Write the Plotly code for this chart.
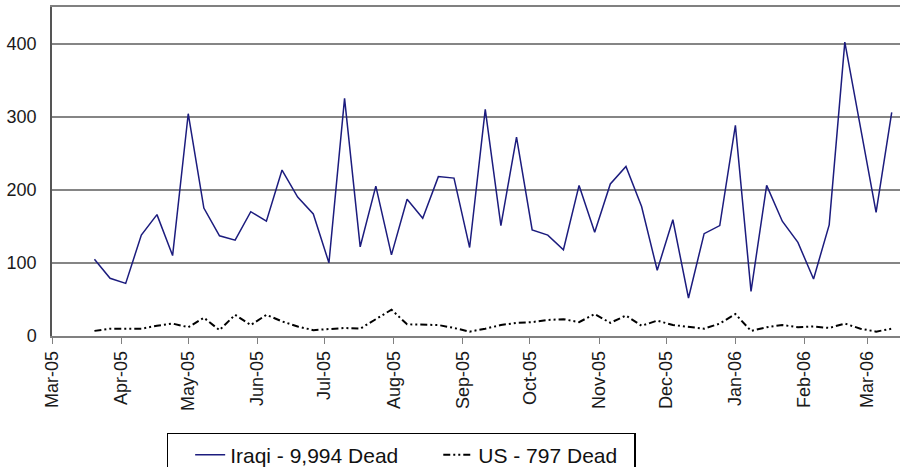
import plotly.graph_objects as go
import pandas as pd

# Weekly data, first week ending 2005-03-20
start_date = "2005-03-20"
n_weeks = 52
iraqi = [105, 79, 72, 138, 166, 110, 304, 175, 137, 131,
         170, 157, 227, 190, 167, 100, 325, 122, 205, 111,
         187, 161, 218, 216, 121, 310, 151, 272, 145, 138,
         118, 206, 142, 208, 232, 177, 90, 159, 52, 140,
         151, 288, 61, 206, 157, 128, 78, 152, 402, 288,
         169, 306]
us = [7, 10, 10, 10, 14, 17, 12, 25, 8, 29,
      15, 29, 20, 13, 8, 9, 11, 10, 23, 36,
      16, 15, 15, 11, 6, 10, 15, 18, 19, 22,
      23, 19, 30, 18, 28, 14, 21, 15, 13, 10,
      17, 30, 7, 12, 15, 12, 13, 11, 17, 10,
      6, 10]
series_names = ["Iraqi - 9,994 Dead", "US - 797 Dead"]
y_ticks = [0, 100, 200, 300, 400]

dates = pd.date_range(start_date, periods=n_weeks, freq="7D")

FONT = "Liberation Sans, Arial, Helvetica, sans-serif"
NB = "\u00a0"

fig = go.Figure()
fig.add_trace(go.Scatter(
    x=dates, y=iraqi, mode="lines", name=series_names[0] + NB * 6,
    line=dict(color="#1c1c7e", width=1.5),
))
fig.add_trace(go.Scatter(
    x=dates, y=us, mode="lines", name=series_names[1] + NB * 2,
    line=dict(color="#000000", width=2, dash="7px,3px,2px,3px,2px,3px"),
))

fig.update_layout(
    width=900, height=467,
    margin=dict(l=52, r=0, t=7, b=131, autoexpand=False),
    paper_bgcolor="white", plot_bgcolor="white",
    font=dict(family=FONT, color="#1a1a1a"),
    showlegend=True,
    legend=dict(
        orientation="h", x=0.1356, y=-0.2948, xanchor="left", yanchor="top",
        bordercolor="#000000", borderwidth=1.5, bgcolor="white",
        font=dict(family=FONT, size=21, color="#111111"),
        title=dict(text=NB * 2, side="left", font=dict(size=21)),
    ),
)
fig.update_xaxes(
    type="date",
    range=["2005-03-01", "2006-03-15 17:00"],
    dtick="M1", tick0="2005-03-01", tickformat="%b-%y", tickangle=-90,
    ticks="outside", ticklen=6, tickcolor="#808080", tickwidth=1,
    showline=True, linecolor="#808080", linewidth=1.5, mirror=True,
    showgrid=False, zeroline=False, automargin=False,
    tickfont=dict(family=FONT, size=18, color="#1a1a1a"),
)
fig.update_yaxes(
    range=[0, 450], tickvals=y_ticks,
    showgrid=True, gridcolor="#858585", gridwidth=1.5,
    showline=True, linecolor="#555555", linewidth=1.5, mirror=True,
    zeroline=False, ticks="", ticklabelstandoff=10, automargin=False,
    tickfont=dict(family=FONT, size=18, color="#1a1a1a"),
)

fig.write_html(
    "out.html",
    config={"displayModeBar": False},
    post_script="document.body.style.margin='0';document.body.style.overflow='hidden';",
)
